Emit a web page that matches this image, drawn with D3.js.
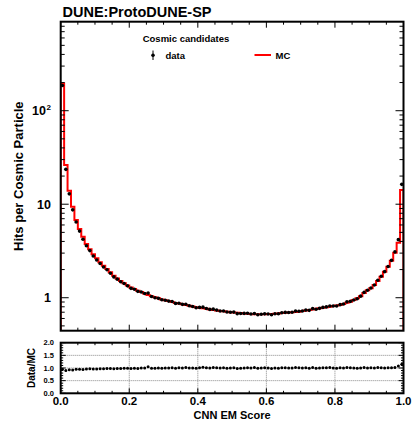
<!DOCTYPE html>
<html><head><meta charset="utf-8">
<script src="https://cdn.jsdelivr.net/npm/d3@7"></script>
<style>
body{margin:0;background:#fff;}
text{font-family:"Liberation Sans",Arial,sans-serif;font-weight:bold;fill:#000;}
</style></head><body>
<svg id="c" width="413" height="427"></svg>
<script>
// ---- data ----
const binEdges = [0, 1];           // x range of the histogram
const nBins = 100;
const mcValues = [196,26.3,13.9,9.4,6.8,5.43,4.49,3.75,3.29,2.91,
 2.64,2.39,2.2,2.03,1.87,1.72,1.61,1.51,1.43,1.35,
 1.29,1.24,1.19,1.15,1.11,1.07,1.04,1.01,0.985,0.96,
 0.94,0.92,0.90,0.88,0.865,0.85,0.835,0.82,0.805,0.79,
 0.78,0.77,0.76,0.75,0.74,0.73,0.72,0.715,0.71,0.70,
 0.695,0.69,0.685,0.68,0.675,0.67,0.665,0.665,0.665,0.665,
 0.67,0.67,0.675,0.68,0.685,0.69,0.695,0.70,0.705,0.71,
 0.72,0.73,0.74,0.75,0.76,0.77,0.78,0.79,0.80,0.815,
 0.825,0.835,0.856,0.885,0.906,0.945,0.985,1.04,1.12,1.2,
 1.26,1.37,1.51,1.68,1.9,2.14,2.49,3.03,3.87,14.2];
const dataValues = [186,23.6,12.9,8.7,6.46,5.16,4.22,3.60,3.19,2.79,
 2.53,2.32,2.13,1.99,1.83,1.67,1.58,1.48,1.42,1.34,
 1.26,1.23,1.17,1.15,1.11,1.12,1.03,1.00,0.985,0.95,
 0.94,0.92,0.91,0.87,0.874,0.85,0.852,0.82,0.805,0.782,
 0.788,0.793,0.768,0.75,0.755,0.737,0.72,0.722,0.703,0.70,
 0.702,0.676,0.678,0.68,0.682,0.67,0.678,0.658,0.665,0.672,
 0.67,0.657,0.675,0.673,0.692,0.697,0.695,0.70,0.719,0.717,
 0.72,0.737,0.733,0.765,0.752,0.77,0.788,0.798,0.816,0.815,
 0.817,0.843,0.856,0.903,0.915,0.945,0.975,1.04,1.14,1.2,
 1.27,1.37,1.54,1.70,1.9,2.16,2.51,3.09,4.18,16.3];
const xTickLabels = ["0.0","0.2","0.4","0.6","0.8","1.0"];
const ratioTickLabels = ["0.0","0.5","1.0","1.5","2.0"];
const mainYDomain = [0.444, 895];
const ratioYDomain = [0, 2];

// ---- layout ----
const L = 60.7, R = 403.5;
const mT = 21.7, mB = 330.7;
const rT = 342.7, rB = 393.3;
const svg = d3.select("#c");

const x = d3.scaleLinear().domain(binEdges).range([L, R]);
const y = d3.scaleLog().domain(mainYDomain).range([mB, mT]);
const yr = d3.scaleLinear().domain(ratioYDomain).range([rB, rT]);
const bw = (binEdges[1]-binEdges[0])/nBins;
const centers = d3.range(nBins).map(i => binEdges[0] + (i+0.5)*bw);

// ---- main pad ----
const clip = svg.append("clipPath").attr("id","mclip").append("rect")
  .attr("x",L).attr("y",mT).attr("width",R-L).attr("height",mB-mT);

// MC step histogram
const pts = [[binEdges[0], mainYDomain[0]]];
mcValues.forEach((v,i)=>{ pts.push([binEdges[0]+i*bw, v]); pts.push([binEdges[0]+(i+1)*bw, v]); });
pts.push([binEdges[1], mainYDomain[0]]);
svg.append("path").attr("clip-path","url(#mclip)")
  .attr("d", d3.line().x(d=>x(d[0])).y(d=>y(d[1]))(pts))
  .attr("fill","none").attr("stroke","#ff0000").attr("stroke-width",2);

// data points
const dg = svg.append("g").attr("clip-path","url(#mclip)");
dataValues.forEach((v,i)=>{
  const e = Math.max(v*0.02, 0);
  dg.append("line").attr("x1",x(centers[i])).attr("x2",x(centers[i]))
    .attr("y1",y(v+e)).attr("y2",y(v-e)).attr("stroke","#000").attr("stroke-width",1);
  dg.append("circle").attr("cx",x(centers[i])).attr("cy",y(v)).attr("r",1.8).attr("fill","#000");
});

// main frame
svg.append("rect").attr("x",L).attr("y",mT).attr("width",R-L).attr("height",mB-mT)
  .attr("fill","none").attr("stroke","#000").attr("stroke-width",2);

// x ticks main (top & bottom, inward)
const xMinor = d3.range(0, 1.0001, 0.05);
xMinor.forEach(t=>{
  const major = Math.abs((t*5) - Math.round(t*5)) < 1e-6;
  const len = major ? 6 : 3;
  svg.append("line").attr("x1",x(t)).attr("x2",x(t)).attr("y1",mB).attr("y2",mB-len).attr("stroke","#000");
  svg.append("line").attr("x1",x(t)).attr("x2",x(t)).attr("y1",mT).attr("y2",mT+len).attr("stroke","#000");
});
// y ticks main (log)
const yTicks = [];
[0.1,1,10,100].forEach(dec=>{ for(let k=1;k<10;k++){ const v=dec*k; if(v>=mainYDomain[0] && v<=mainYDomain[1]) yTicks.push([v,k===1]); } });
yTicks.forEach(([v,major])=>{
  const len = major ? 8 : 4;
  svg.append("line").attr("x1",L).attr("x2",L+len).attr("y1",y(v)).attr("y2",y(v)).attr("stroke","#000");
  svg.append("line").attr("x1",R).attr("x2",R-len).attr("y1",y(v)).attr("y2",y(v)).attr("stroke","#000");
});
// y tick labels
const ylab = [[1,"1",null],[10,"10",null],[100,"10","2"]];
ylab.forEach(([v,t,sup])=>{
  const tx = svg.append("text").attr("x", sup? 46 : 51).attr("y", y(v)+4.5)
     .attr("text-anchor","end").attr("font-size",12.5).text(t);
  if(sup) svg.append("text").attr("x",46.5).attr("y",y(v)-0.5).attr("font-size",8).text(sup);
});

// title
svg.append("text").attr("x",62.5).attr("y",16.5).attr("font-size",14.5).text("DUNE:ProtoDUNE-SP");
// y title
svg.append("text").attr("transform",`translate(23,${(mT+mB)/2}) rotate(-90)`)
  .attr("text-anchor","middle").attr("font-size",13).text("Hits per Cosmic Particle");

// legend
svg.append("text").attr("x",142.7).attr("y",41.5).attr("font-size",9.5).text("Cosmic candidates");
svg.append("line").attr("x1",153).attr("x2",153).attr("y1",50.5).attr("y2",60).attr("stroke","#000").attr("stroke-width",1);
svg.append("circle").attr("cx",153).attr("cy",55.2).attr("r",1.8).attr("fill","#000");
svg.append("text").attr("x",165.5).attr("y",58.5).attr("font-size",9.5).text("data");
svg.append("line").attr("x1",254.5).attr("x2",271).attr("y1",55).attr("y2",55).attr("stroke","#ff0000").attr("stroke-width",2);
svg.append("text").attr("x",275.5).attr("y",58.5).attr("font-size",9.5).text("MC");

// ---- ratio pad ----
const rg = svg.append("g");
// grid
[0.2,0.4,0.6,0.8].forEach(t=>{
  rg.append("line").attr("x1",x(t)).attr("x2",x(t)).attr("y1",rT).attr("y2",rB)
    .attr("stroke","#888").attr("stroke-width",1).attr("stroke-dasharray","1,1");
});
[0.5,1.0,1.5].forEach(t=>{
  rg.append("line").attr("x1",L).attr("x2",R).attr("y1",yr(t)).attr("y2",yr(t))
    .attr("stroke","#888").attr("stroke-width",1).attr("stroke-dasharray","1,1");
});
// ratio points
const ratio = dataValues.map((d,i)=>d/mcValues[i]);
ratio.forEach((r,i)=>{
  rg.append("line").attr("x1",x(centers[i])).attr("x2",x(centers[i]))
    .attr("y1",yr(r+0.03)).attr("y2",yr(r-0.03)).attr("stroke","#000").attr("stroke-width",1);
  rg.append("circle").attr("cx",x(centers[i])).attr("cy",yr(r)).attr("r",1.5).attr("fill","#000");
});
rg.append("rect").attr("x",L).attr("y",rT).attr("width",R-L).attr("height",rB-rT)
  .attr("fill","none").attr("stroke","#000").attr("stroke-width",2);
// ratio ticks
xMinor.forEach(t=>{
  const major = Math.abs((t*5) - Math.round(t*5)) < 1e-6;
  const len = major ? 5 : 2.5;
  rg.append("line").attr("x1",x(t)).attr("x2",x(t)).attr("y1",rB).attr("y2",rB-len).attr("stroke","#000");
  rg.append("line").attr("x1",x(t)).attr("x2",x(t)).attr("y1",rT).attr("y2",rT+len).attr("stroke","#000");
});
d3.range(0,2.0001,0.1).forEach(t=>{
  const major = Math.abs(t*2-Math.round(t*2))<1e-6;
  const len = major ? 5 : 2.5;
  rg.append("line").attr("x1",L).attr("x2",L+len).attr("y1",yr(t)).attr("y2",yr(t)).attr("stroke","#000");
  rg.append("line").attr("x1",R).attr("x2",R-len).attr("y1",yr(t)).attr("y2",yr(t)).attr("stroke","#000");
});
ratioTickLabels.forEach(t=>{
  rg.append("text").attr("x",54).attr("y",yr(+t)+2.5).attr("text-anchor","end").attr("font-size",7.5).text(t);
});
xTickLabels.forEach(t=>{
  rg.append("text").attr("x",x(+t)).attr("y",405).attr("text-anchor","middle").attr("font-size",11.5).text(t);
});
svg.append("text").attr("x",(L+R)/2).attr("y",419).attr("text-anchor","middle").attr("font-size",11).text("CNN EM Score");
svg.append("text").attr("transform",`translate(35,${(rT+rB)/2}) rotate(-90)`)
  .attr("text-anchor","middle").attr("font-size",10).text("Data/MC");
</script>
</body></html>
